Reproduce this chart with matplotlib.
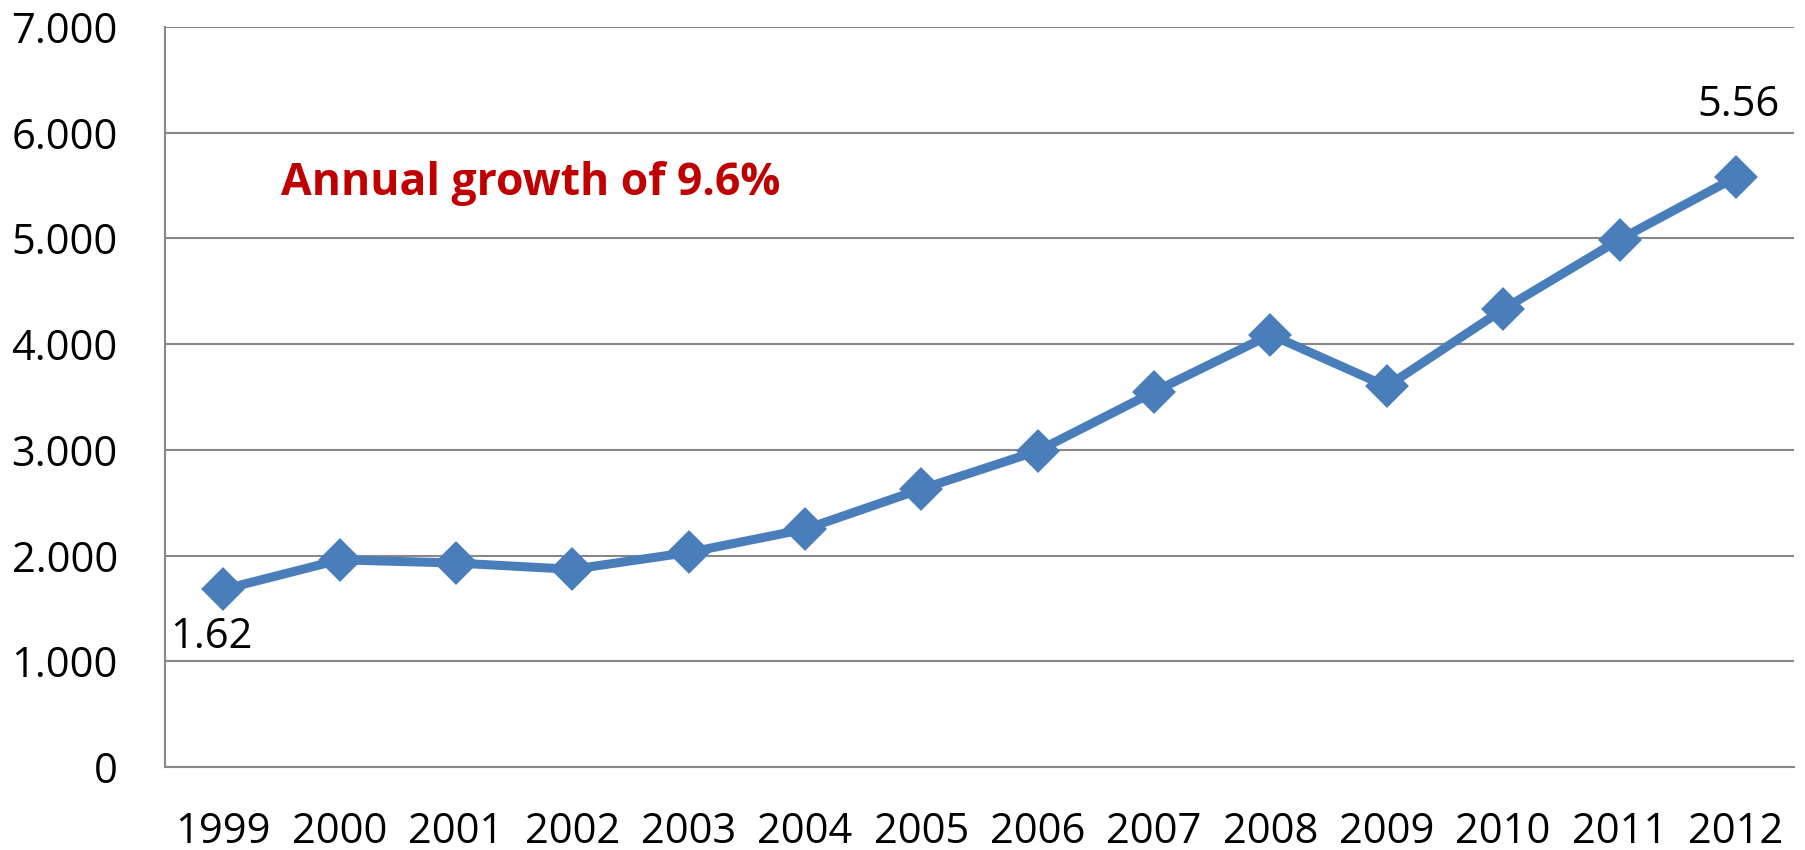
import matplotlib.pyplot as plt

years = ['1999', '2000', '2001', '2002', '2003', '2004', '2005',
         '2006', '2007', '2008', '2009', '2010', '2011', '2012']
values = [1680, 1960, 1930, 1870, 2030, 2250, 2630,
          2990, 3550, 4090, 3600, 4330, 4990, 5580]
yticks = [0, 1000, 2000, 3000, 4000, 5000, 6000, 7000]
ytick_labels = ['0', '1.000', '2.000', '3.000', '4.000', '5.000', '6.000', '7.000']
first_label = '1.62'
last_label = '5.56'
note = 'Annual growth of 9.6%'

plt.rcParams['font.family'] = ['Open Sans', 'DejaVu Sans']

fig = plt.figure(figsize=(18.06, 8.5), dpi=100)
ax = fig.add_axes([0.0914, 0.0976, 0.902, 0.8706])

x = list(range(len(years)))
ax.plot(x, values, color='#4A7EBB', linewidth=6.5, marker='D', markersize=18,
        markeredgewidth=4, markeredgecolor='#4A7EBB', solid_joinstyle='round',
        zorder=3)

ax.set_xlim(-0.5, len(years) - 0.5)
ax.set_ylim(0, 7000)
ax.set_yticks(yticks)
ax.set_yticklabels(ytick_labels)
ax.set_xticks(x)
ax.set_xticklabels(years)
ax.tick_params(axis='y', length=0, pad=34, labelsize=30)
ax.tick_params(axis='x', length=0, pad=32, labelsize=30)

ax.grid(axis='y', color='#888888', linewidth=1.5)
ax.set_axisbelow(True)
for s in ['top', 'right']:
    ax.spines[s].set_visible(False)
for s in ['left', 'bottom']:
    ax.spines[s].set_color('#888888')
    ax.spines[s].set_linewidth(1.5)

ax.text(x[0] - 0.46, values[0] - 450, first_label, fontsize=30,
        ha='left', va='center')
ax.text(x[-1] + 0.38, values[-1] + 680, last_label, fontsize=30,
        ha='right', va='center')
ax.text(0.5, 5520, note, fontsize=32, fontweight='bold', color='#C00000',
        ha='left', va='center')

fig.savefig('out.png', dpi=100)
